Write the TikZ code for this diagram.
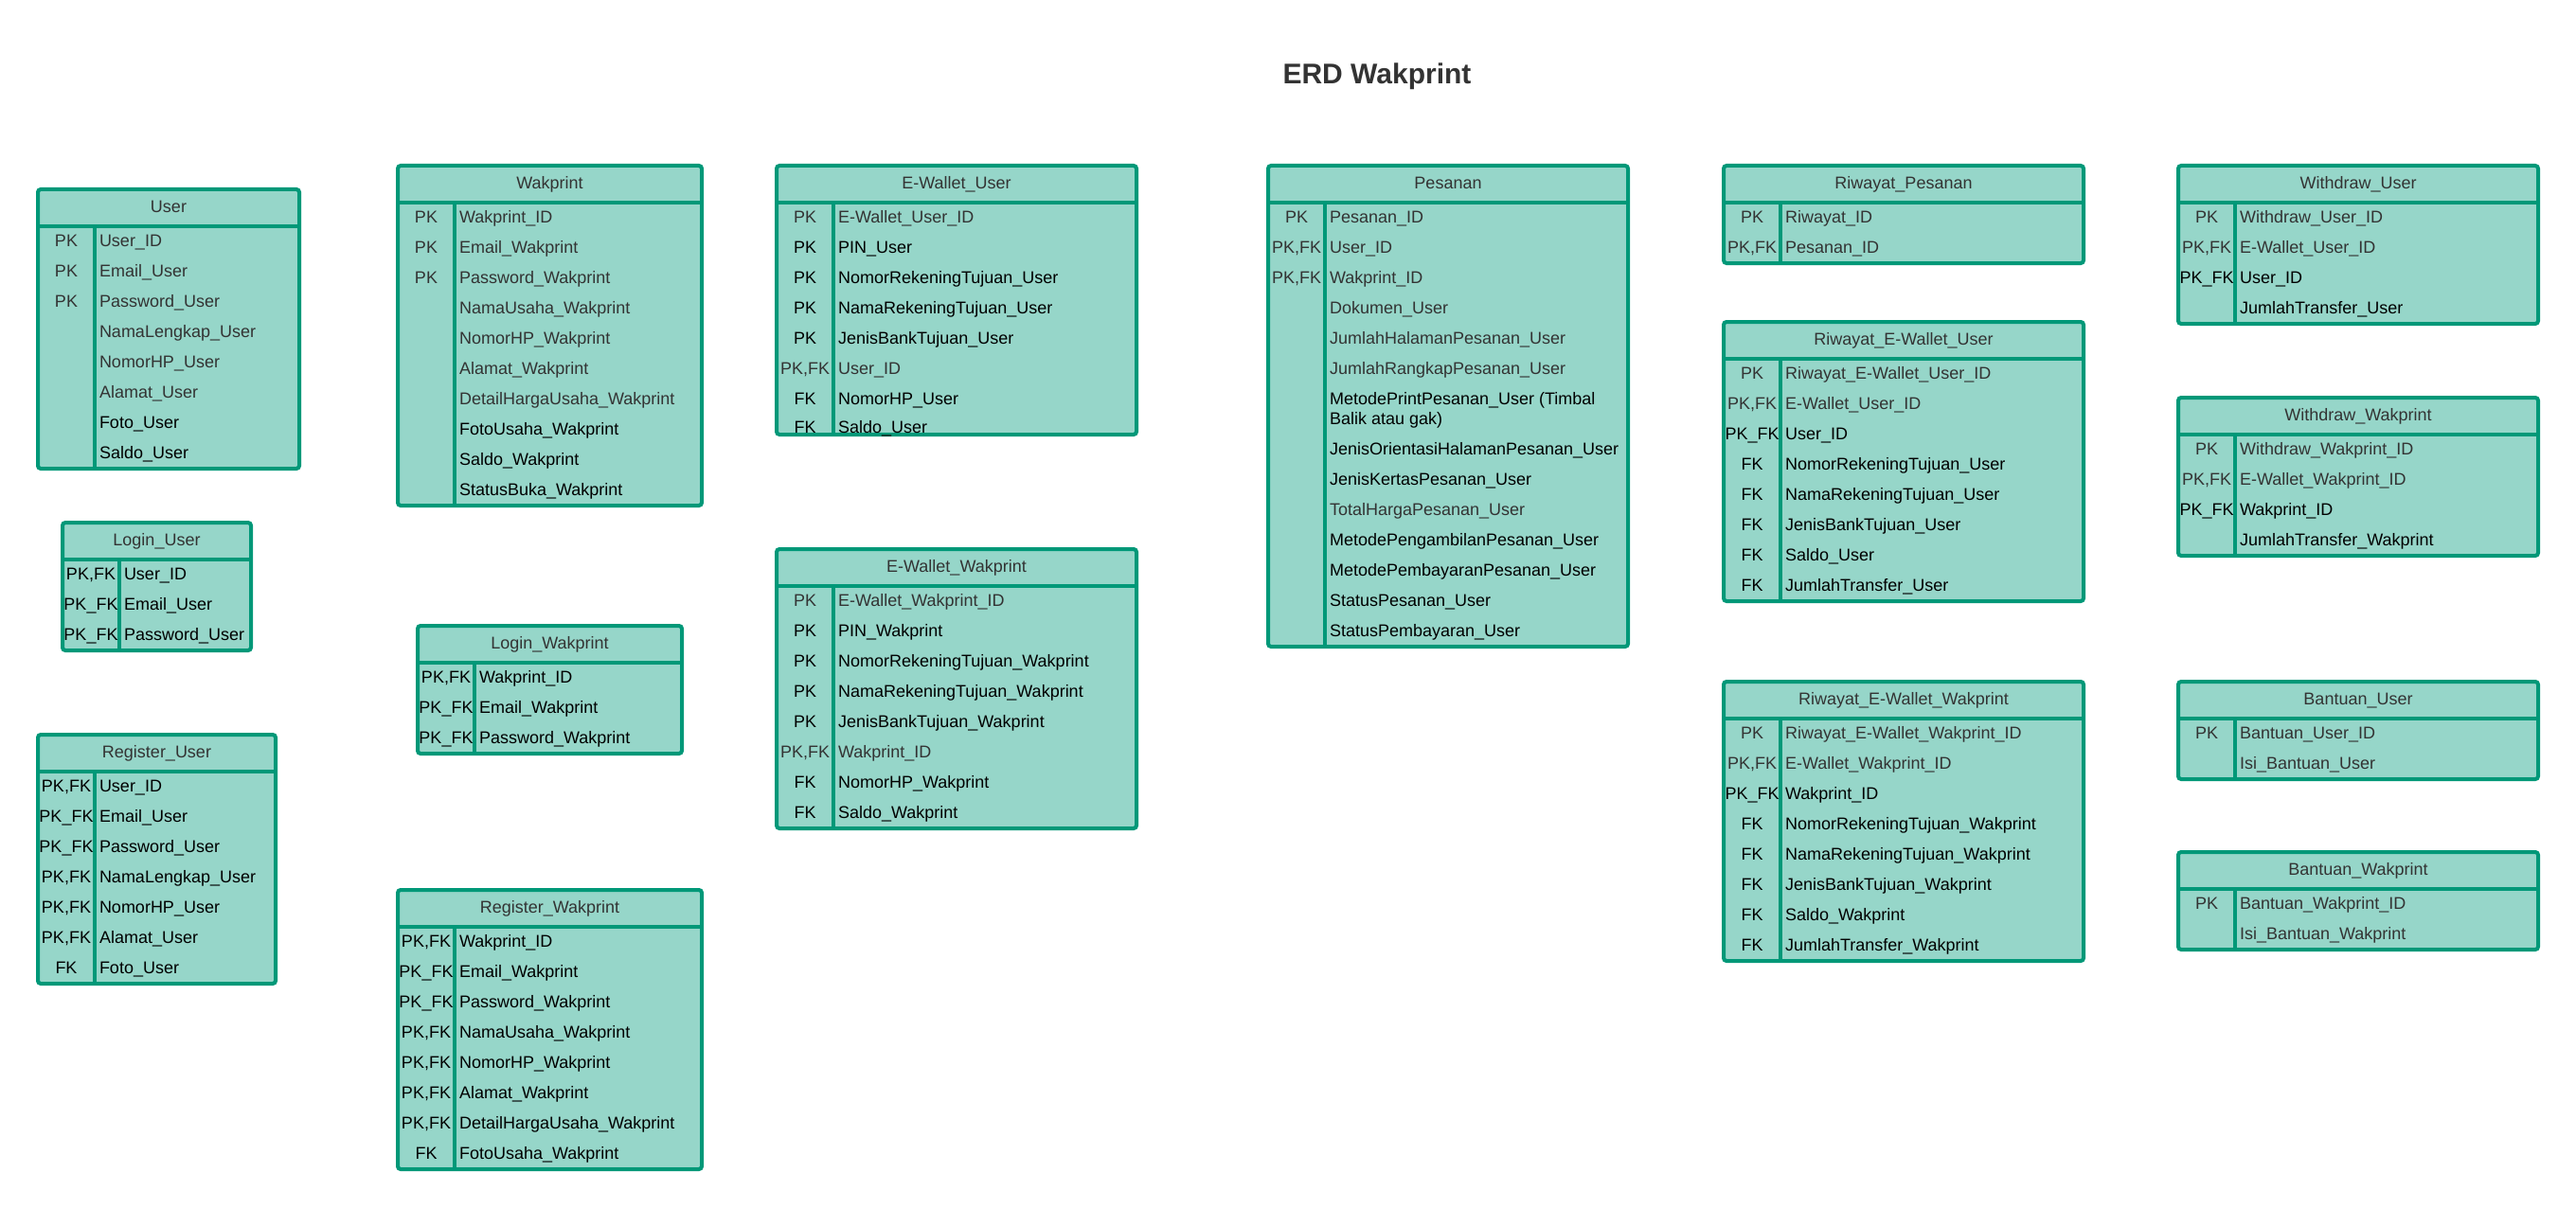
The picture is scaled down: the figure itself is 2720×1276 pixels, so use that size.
\documentclass[tikz,border=0pt]{standalone}
\usepackage{fontspec}
\setmainfont{Liberation Sans}
\definecolor{tabfill}{RGB}{150,214,201}
\definecolor{tabline}{RGB}{0,152,120}
\definecolor{gtx}{RGB}{51,51,51}
\definecolor{ktx}{RGB}{0,0,0}
\tikzset{
  boxbg/.style={draw=tabline, fill=tabfill, line width=4pt, rounded corners=3pt, inner sep=0pt, outer sep=0pt},
  sepline/.style={draw=tabline, line width=4pt},
  rowfont/.style={font=\fontsize{18}{21.6}\selectfont, inner sep=0pt, outer sep=0pt},
  keytxt/.style={rowfont, anchor=base},
  attrtxt/.style={rowfont, anchor=base west},
  titletxt/.style={rowfont, anchor=base, text=gtx},
  maintitle/.style={font=\bfseries\fontsize{30}{36}\selectfont, text=gtx, anchor=base, inner sep=0pt}
}
\newcommand\erdbox[6]{%
  \def\curid{#1}\def\curL{#2}\def\curT{#3}\def\rowextra{0}%
  \pgfmathsetmacro\bw{#4-#2}\pgfmathsetmacro\bh{#5-#3}%
  \pgfmathsetmacro\bx{(#2+#4)/2}\pgfmathsetmacro\by{(#3+#5)/2}%
  \node[boxbg, minimum width=\bw pt, minimum height=\bh pt] (#1) at (\bx,\by) {};
  \draw[sepline] (#2,#3+39) -- (#4,#3+39);
  \draw[sepline] (#2+60,#3+39) -- (#2+60,#5);
  \node[titletxt] (#1-t) at (\bx,#3+24.3) {#6};
}
\newcommand\erow[4]{%
  \pgfmathsetmacro\rowy{\curT+60.5+32*(#1-1)+\rowextra}%
  \if\relax\detokenize{#2}\relax\else
    \node[keytxt,text=#4] (\curid-k#1) at (\curL+30,\rowy) {#2};%
  \fi
  \node[attrtxt,text=#4] (\curid-a#1) at (\curL+65,\rowy) {#3};
}
\begin{document}
\begin{tikzpicture}[x=1pt,y=-1pt]
\useasboundingbox[fill=white] (0,0) rectangle (2720,1276);
\node[maintitle] (title) at (1454,89) {ERD Wakprint};

% User
\erdbox{user}{40}{200}{316}{495}{User}
\erow{1}{PK}{User\_ID}{gtx}
\erow{2}{PK}{Email\_User}{gtx}
\erow{3}{PK}{Password\_User}{gtx}
\erow{4}{}{NamaLengkap\_User}{gtx}
\erow{5}{}{NomorHP\_User}{gtx}
\erow{6}{}{Alamat\_User}{gtx}
\erow{7}{}{Foto\_User}{ktx}
\erow{8}{}{Saldo\_User}{ktx}

% Wakprint
\erdbox{wak}{420}{175}{741}{534}{Wakprint}
\erow{1}{PK}{Wakprint\_ID}{gtx}
\erow{2}{PK}{Email\_Wakprint}{gtx}
\erow{3}{PK}{Password\_Wakprint}{gtx}
\erow{4}{}{NamaUsaha\_Wakprint}{gtx}
\erow{5}{}{NomorHP\_Wakprint}{gtx}
\erow{6}{}{Alamat\_Wakprint}{gtx}
\erow{7}{}{DetailHargaUsaha\_Wakprint}{gtx}
\erow{8}{}{FotoUsaha\_Wakprint}{ktx}
\erow{9}{}{Saldo\_Wakprint}{ktx}
\erow{10}{}{StatusBuka\_Wakprint}{ktx}

% E-Wallet_User
\erdbox{ewu}{820}{175}{1200}{459}{E-Wallet\_User}
\erow{1}{PK}{E-Wallet\_User\_ID}{gtx}
\erow{2}{PK}{PIN\_User}{ktx}
\erow{3}{PK}{NomorRekeningTujuan\_User}{ktx}
\erow{4}{PK}{NamaRekeningTujuan\_User}{ktx}
\erow{5}{PK}{JenisBankTujuan\_User}{ktx}
\erow{6}{PK,FK}{User\_ID}{gtx}
\erow{7}{FK}{NomorHP\_User}{ktx}
\def\rowextra{-2.5}
\erow{8}{FK}{Saldo\_User}{ktx}

% Pesanan
\erdbox{pes}{1339}{175}{1719}{683}{Pesanan}
\erow{1}{PK}{Pesanan\_ID}{gtx}
\erow{2}{PK,FK}{User\_ID}{gtx}
\erow{3}{PK,FK}{Wakprint\_ID}{gtx}
\erow{4}{}{Dokumen\_User}{gtx}
\erow{5}{}{JumlahHalamanPesanan\_User}{gtx}
\erow{6}{}{JumlahRangkapPesanan\_User}{gtx}
\erow{7}{}{MetodePrintPesanan\_User (Timbal}{ktx}
\node[attrtxt,text=ktx] (pes-a7b) at (1404,\rowy+21) {Balik atau gak)};
\def\rowextra{21}
\erow{8}{}{JenisOrientasiHalamanPesanan\_User}{ktx}
\erow{9}{}{JenisKertasPesanan\_User}{ktx}
\erow{10}{}{TotalHargaPesanan\_User}{gtx}
\erow{11}{}{MetodePengambilanPesanan\_User}{ktx}
\erow{12}{}{MetodePembayaranPesanan\_User}{ktx}
\erow{13}{}{StatusPesanan\_User}{ktx}
\erow{14}{}{StatusPembayaran\_User}{ktx}

% Riwayat_Pesanan
\erdbox{rp}{1820}{175}{2200}{278}{Riwayat\_Pesanan}
\erow{1}{PK}{Riwayat\_ID}{gtx}
\erow{2}{PK,FK}{Pesanan\_ID}{gtx}

% Withdraw_User
\erdbox{wu}{2300}{175}{2680}{342}{Withdraw\_User}
\erow{1}{PK}{Withdraw\_User\_ID}{gtx}
\erow{2}{PK,FK}{E-Wallet\_User\_ID}{gtx}
\erow{3}{PK\_FK}{User\_ID}{ktx}
\erow{4}{}{JumlahTransfer\_User}{ktx}

% Riwayat_E-Wallet_User
\erdbox{rewu}{1820}{340}{2200}{635}{Riwayat\_E-Wallet\_User}
\erow{1}{PK}{Riwayat\_E-Wallet\_User\_ID}{gtx}
\erow{2}{PK,FK}{E-Wallet\_User\_ID}{gtx}
\erow{3}{PK\_FK}{User\_ID}{ktx}
\erow{4}{FK}{NomorRekeningTujuan\_User}{ktx}
\erow{5}{FK}{NamaRekeningTujuan\_User}{ktx}
\erow{6}{FK}{JenisBankTujuan\_User}{ktx}
\erow{7}{FK}{Saldo\_User}{ktx}
\erow{8}{FK}{JumlahTransfer\_User}{ktx}

% Withdraw_Wakprint
\erdbox{ww}{2300}{420}{2680}{587}{Withdraw\_Wakprint}
\erow{1}{PK}{Withdraw\_Wakprint\_ID}{gtx}
\erow{2}{PK,FK}{E-Wallet\_Wakprint\_ID}{gtx}
\erow{3}{PK\_FK}{Wakprint\_ID}{ktx}
\erow{4}{}{JumlahTransfer\_Wakprint}{ktx}

% Login_User
\erdbox{lu}{66}{552}{265}{687}{Login\_User}
\erow{1}{PK,FK}{User\_ID}{ktx}
\erow{2}{PK\_FK}{Email\_User}{ktx}
\erow{3}{PK\_FK}{Password\_User}{ktx}

% Login_Wakprint
\erdbox{lw}{441}{661}{720}{796}{Login\_Wakprint}
\erow{1}{PK,FK}{Wakprint\_ID}{ktx}
\erow{2}{PK\_FK}{Email\_Wakprint}{ktx}
\erow{3}{PK\_FK}{Password\_Wakprint}{ktx}

% E-Wallet_Wakprint
\erdbox{eww}{820}{580}{1200}{875}{E-Wallet\_Wakprint}
\erow{1}{PK}{E-Wallet\_Wakprint\_ID}{gtx}
\erow{2}{PK}{PIN\_Wakprint}{ktx}
\erow{3}{PK}{NomorRekeningTujuan\_Wakprint}{ktx}
\erow{4}{PK}{NamaRekeningTujuan\_Wakprint}{ktx}
\erow{5}{PK}{JenisBankTujuan\_Wakprint}{ktx}
\erow{6}{PK,FK}{Wakprint\_ID}{gtx}
\erow{7}{FK}{NomorHP\_Wakprint}{ktx}
\erow{8}{FK}{Saldo\_Wakprint}{ktx}

% Register_User
\erdbox{ru}{40}{776}{291}{1039}{Register\_User}
\erow{1}{PK,FK}{User\_ID}{ktx}
\erow{2}{PK\_FK}{Email\_User}{ktx}
\erow{3}{PK\_FK}{Password\_User}{ktx}
\erow{4}{PK,FK}{NamaLengkap\_User}{ktx}
\erow{5}{PK,FK}{NomorHP\_User}{ktx}
\erow{6}{PK,FK}{Alamat\_User}{ktx}
\erow{7}{FK}{Foto\_User}{ktx}

% Register_Wakprint
\erdbox{rw}{420}{940}{741}{1235}{Register\_Wakprint}
\erow{1}{PK,FK}{Wakprint\_ID}{ktx}
\erow{2}{PK\_FK}{Email\_Wakprint}{ktx}
\erow{3}{PK\_FK}{Password\_Wakprint}{ktx}
\erow{4}{PK,FK}{NamaUsaha\_Wakprint}{ktx}
\erow{5}{PK,FK}{NomorHP\_Wakprint}{ktx}
\erow{6}{PK,FK}{Alamat\_Wakprint}{ktx}
\erow{7}{PK,FK}{DetailHargaUsaha\_Wakprint}{ktx}
\erow{8}{FK}{FotoUsaha\_Wakprint}{ktx}

% Riwayat_E-Wallet_Wakprint
\erdbox{reww}{1820}{720}{2200}{1015}{Riwayat\_E-Wallet\_Wakprint}
\erow{1}{PK}{Riwayat\_E-Wallet\_Wakprint\_ID}{gtx}
\erow{2}{PK,FK}{E-Wallet\_Wakprint\_ID}{gtx}
\erow{3}{PK\_FK}{Wakprint\_ID}{ktx}
\erow{4}{FK}{NomorRekeningTujuan\_Wakprint}{ktx}
\erow{5}{FK}{NamaRekeningTujuan\_Wakprint}{ktx}
\erow{6}{FK}{JenisBankTujuan\_Wakprint}{ktx}
\erow{7}{FK}{Saldo\_Wakprint}{ktx}
\erow{8}{FK}{JumlahTransfer\_Wakprint}{ktx}

% Bantuan_User
\erdbox{bu}{2300}{720}{2680}{823}{Bantuan\_User}
\erow{1}{PK}{Bantuan\_User\_ID}{gtx}
\erow{2}{}{Isi\_Bantuan\_User}{gtx}

% Bantuan_Wakprint
\erdbox{bw}{2300}{900}{2680}{1003}{Bantuan\_Wakprint}
\erow{1}{PK}{Bantuan\_Wakprint\_ID}{gtx}
\erow{2}{}{Isi\_Bantuan\_Wakprint}{gtx}
\end{tikzpicture}
\end{document}
